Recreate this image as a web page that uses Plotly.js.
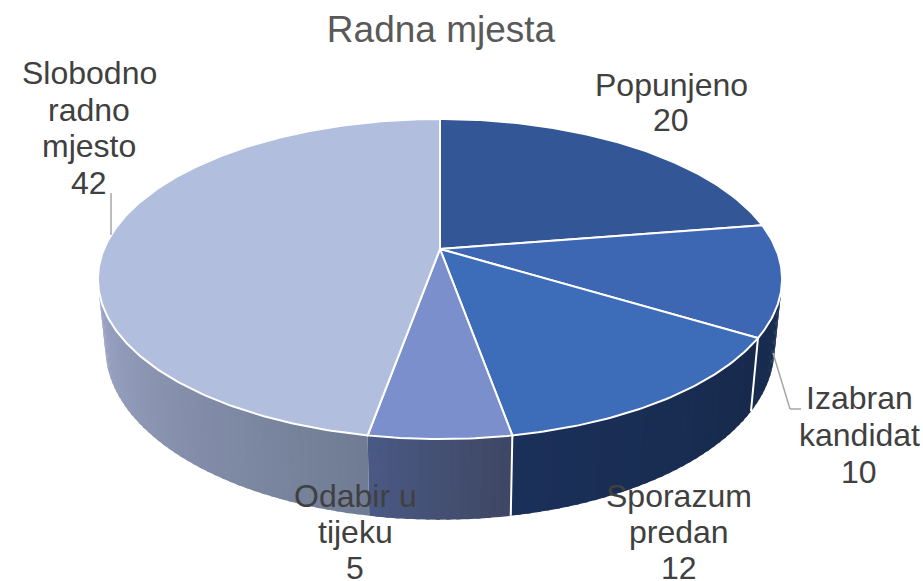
<!DOCTYPE html>
<html>
<head>
<meta charset="utf-8">
<script src="https://cdn.plot.ly/plotly-3.0.1.min.js"></script>
<style>html,body{margin:0;padding:0;background:#fff}#c{width:923px;height:581px}</style>
</head>
<body>
<div id="c"></div>
<script>
// Data
const categories = ['Popunjeno', 'Izabran kandidat', 'Sporazum predan', 'Odabir u tijeku', 'Slobodno radno mjesto'];
const values = [20, 10, 12, 5, 42];
const labelLines = [['Popunjeno'], ['Izabran', 'kandidat'], ['Sporazum', 'predan'], ['Odabir u', 'tijeku'], ['Slobodno', 'radno', 'mjesto']];
const chartTitle = 'Radna mjesta';

// Styles (wallFrom = right end of each wall piece, wallTo = left end)
const topColors = ['#335696', '#3d66b3', '#3d6cb9', '#7a8fcb', '#b2bedd'];
const wallFrom = ['#182c4f', '#182c4f', '#172a4c', '#3e4662', '#6f7b93'];
const wallTo = ['#182c4f', '#182c4f', '#1b3059', '#4a5a85', '#9ea7c8'];

// Label placement: centre x and first-line centre y, line pitch
const labelPlace = [[671, 85, 35], [859, 398, 37], [679, 496, 36], [355, 496, 36], [89, 73, 36.7]];

// Projection of the tilted pie disc
const CX = 440, K = 0.1875;
const TOP = {A: 336, B: 154.4, cy: 249};
const BOT = {A: 328.6, B: 165.5, cy: 316};
function proj(r, deg) {
  const t = deg * Math.PI / 180, u = Math.sin(t), v = Math.cos(t), d = 1 + K * v;
  return [CX + r.A * u / d, r.cy - r.B * v / d];
}
const total = values.reduce((a, b) => a + b, 0);
const edges = [0];
values.forEach(v => edges.push(edges[edges.length - 1] + v / total * 360));

function hex(c) { return [1, 3, 5].map(i => parseInt(c.substr(i, 2), 16)); }
function mix(a, b, f) {
  const A = hex(a), B = hex(b);
  return 'rgb(' + A.map((x, i) => Math.round(x + (B[i] - x) * f)).join(',') + ')';
}

const traces = [];
const visibleFrom = 100.8, visibleTo = 259.2;
const STEP = 1.5;

// Side wall, drawn as thin bands so the colour can shift along it
values.forEach((val, i) => {
  const a0 = Math.max(edges[i], visibleFrom), a1 = Math.min(edges[i + 1], visibleTo);
  if (a1 <= a0) return;
  const n = Math.max(1, Math.ceil((a1 - a0) / STEP));
  for (let s = 0; s < n; s++) {
    const t0 = a0 + (a1 - a0) * s / n;
    const t1 = a0 + (a1 - a0) * Math.min(n, s + 1.4) / n;
    const xs = [], ys = [];
    [[TOP, t0], [TOP, t1], [BOT, t1], [BOT, t0]].forEach(p => {
      const q = proj(p[0], p[1]); xs.push(q[0]); ys.push(q[1]);
    });
    const col = mix(wallFrom[i], wallTo[i], (s + 0.5) / n);
    traces.push({x: xs, y: ys, mode: 'lines', fill: 'toself', fillcolor: col,
      line: {color: col, width: 0}, hoverinfo: 'skip', showlegend: false});
  }
});

// White separators on the wall
edges.slice(1, 4).forEach(e => {
  const a = proj(TOP, e), b = proj(BOT, e);
  traces.push({x: [a[0], b[0]], y: [a[1], b[1]], mode: 'lines',
    line: {color: '#ffffff', width: 2}, hoverinfo: 'skip', showlegend: false});
});

// Top faces
values.forEach((val, i) => {
  const xs = [CX], ys = [TOP.cy];
  const n = Math.ceil((edges[i + 1] - edges[i]) / 0.75);
  for (let s = 0; s <= n; s++) {
    const q = proj(TOP, edges[i] + (edges[i + 1] - edges[i]) * s / n);
    xs.push(q[0]); ys.push(q[1]);
  }
  xs.push(CX); ys.push(TOP.cy);
  traces.push({x: xs, y: ys, mode: 'lines', fill: 'toself', fillcolor: topColors[i],
    line: {color: '#ffffff', width: 2}, name: categories[i], hoverinfo: 'name', showlegend: false});
});

// Text labels
const annotations = [];
labelLines.forEach((lines, i) => {
  const p = labelPlace[i];
  lines.concat([String(values[i])]).forEach((txt, j) => {
    annotations.push({x: p[0], y: p[1] + j * p[2], xref: 'x', yref: 'y', text: txt, showarrow: false,
      xanchor: 'center', yanchor: 'middle', font: {family: 'Liberation Sans, Arial, sans-serif', size: 32, color: '#404040'}});
  });
});

const leader = {type: 'line', xref: 'x', yref: 'y', line: {color: '#a6a6a6', width: 1.5}};
const layout = {
  width: 923, height: 581, margin: {l: 0, r: 0, t: 0, b: 0},
  paper_bgcolor: '#ffffff', plot_bgcolor: '#ffffff', showlegend: false,
  title: {text: chartTitle, x: 441 / 923, xanchor: 'center', y: 1 - 29 / 581, yanchor: 'middle',
    font: {family: 'Liberation Sans, Arial, sans-serif', size: 37, color: '#595959'}},
  xaxis: {range: [0, 923], visible: false, fixedrange: true},
  yaxis: {range: [581, 0], visible: false, fixedrange: true},
  shapes: [
    Object.assign({}, leader, {x0: 111, y0: 235, x1: 111, y1: 193}),
    Object.assign({}, leader, {x0: 773, y0: 353, x1: 790, y1: 409}),
    Object.assign({}, leader, {x0: 790, y0: 409, x1: 801, y1: 409})
  ],
  annotations: annotations
};
Plotly.newPlot('c', traces, layout, {displayModeBar: false, staticPlot: true});
</script>
</body>
</html>
